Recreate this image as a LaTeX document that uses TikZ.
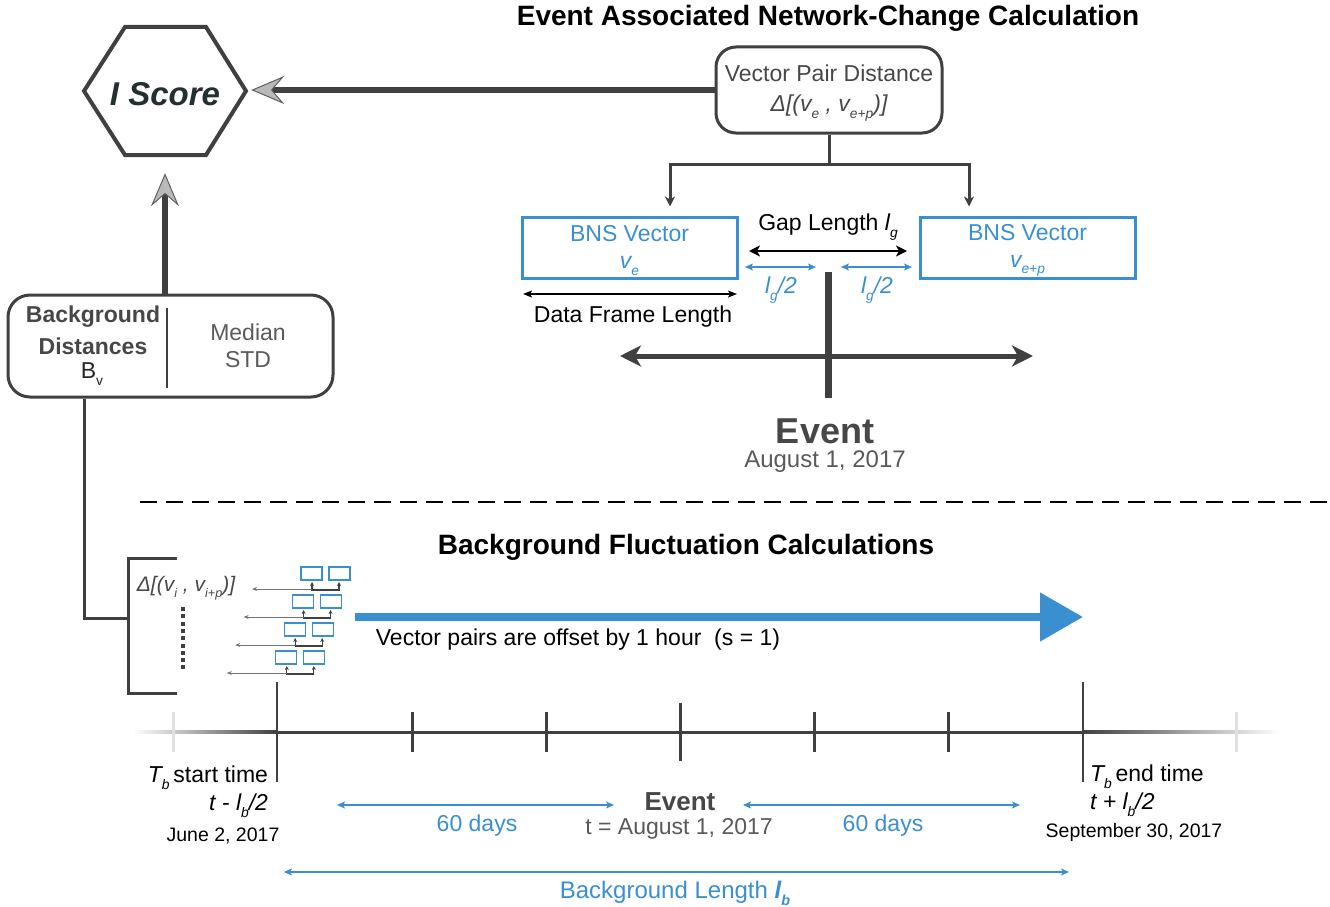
\documentclass[tikz,border=0pt]{standalone}
\usepackage{fontspec}
\setmainfont{Liberation Sans}
\usetikzlibrary{arrows.meta,calc}
\definecolor{dk}{HTML}{404040}
\definecolor{bl}{HTML}{3A8FD1}
\definecolor{tg}{HTML}{474747}
\definecolor{mg}{HTML}{5A5A5A}
\definecolor{isc}{HTML}{243030}
\newcommand{\lsub}[1]{\raisebox{-0.55ex}{\scalebox{0.6}{#1}}}
\newcommand{\fs}[1]{\fontsize{#1}{#1}\selectfont}
\begin{document}
\begin{tikzpicture}[x=1pt,y=-1pt,
  txt/.style={inner sep=0pt, outer sep=0pt, yshift=-3pt},
  med/.style={draw=dk, line width=3pt},
  bigarrow/.style={draw=dk, line width=6pt, -{Stealth[length=33pt,width=28pt,inset=12pt,line width=1pt,color=gray!75!black,fill=gray!55]}},
  smalltip/.style={-{Stealth[length=10pt,width=10pt,inset=3pt]}},
  bluedim/.style={draw=bl, line width=1.5pt, {Stealth[length=8pt,width=7pt,inset=2pt]}-{Stealth[length=8pt,width=7pt,inset=2pt]}},
  blackdim/.style={draw=black, line width=1.5pt, {Stealth[length=9pt,width=7pt,inset=2pt]}-{Stealth[length=9pt,width=7pt,inset=2pt]}},
  bnsbox/.style={draw=bl, line width=3pt, minimum width=215pt, minimum height=61pt, inner sep=0pt},
  bnstxt/.style={txt, align=center, text=bl, font=\fontsize{23}{27}\selectfont},
  tick/.style={draw=dk, line width=3pt},
  lighttick/.style={draw=black!12, line width=3pt},
  minivec/.style={draw=bl, line width=1.3pt},
]
\useasboundingbox (0,0) rectangle (1330,907);

% ---------- titles
\node[txt, font=\fs{28}\bfseries] (title1) at (828,15) {Event Associated Network-Change Calculation};
\node[txt, font=\fs{28}\bfseries] (title2) at (686,544) {Background Fluctuation Calculations};

% ---------- I Score hexagon
\draw[dk, line width=4pt, line join=miter] (84,91) -- (125,27) -- (206,27) -- (246,91) -- (206,155) -- (125,155) -- cycle;
\node[minimum width=162pt, minimum height=128pt, inner sep=0pt] (iscore) at (165,91) {};
\node[txt, font=\fs{33}\bfseries\itshape, text=isc] (iscoretxt) at (165,91) {I Score};

% ---------- Vector pair distance box
\node[draw=dk, line width=3pt, rounded corners=20pt, minimum width=226pt, minimum height=86pt, inner sep=0pt] (vpd) at (829,90) {};
\node[txt, align=center, text=tg, font=\fontsize{23}{30}\selectfont] (vpdtxt) at (vpd.center)
      {Vector Pair Distance\\ \itshape Δ[(v\lsub{e} , v\lsub{e+p})]};
\draw[bigarrow, shorten >=5pt] (vpd.west) -- (vpd.west -| iscore.east);

% ---------- BNS vectors
\node[bnsbox] (bnsL) at (629.5,247.5) {};
\node[bnsbox] (bnsR) at (1027.5,247.5) {};
\node[bnstxt] (bnsLt) at (bnsL.center) {BNS Vector\\ \itshape v\lsub{e}};
\node[bnstxt] (bnsRt) at (bnsR.center) {BNS Vector\\ \itshape v\lsub{e+p}};
\coordinate (br) at ($(vpd.south)+(0,30)$);
\draw[med] (vpd.south) -- (br);
\draw[med, smalltip, shorten >=9pt] (br) -| ($(bnsL.north)+(40.5,0)$);
\draw[med, smalltip, shorten >=9pt] (br) -| ($(bnsR.north)+(-58.5,0)$);

% gap length
\node[txt, font=\fs{23}] (gap) at (828,224) {Gap Length {\itshape l}\lsub{\itshape g}};
\coordinate (gapL) at (749,251); \coordinate (gapR) at (907,251);
\draw[draw=black, line width=2.5pt, {Stealth[length=11pt,width=11pt,inset=3pt]}-{Stealth[length=11pt,width=11pt,inset=3pt]}] (gapL) -- (gapR);
\coordinate (h1a) at (745,267); \coordinate (h1b) at (816,267);
\coordinate (h2a) at (841,267); \coordinate (h2b) at (912,267);
\draw[bluedim] (h1a) -- (h1b);
\draw[bluedim] (h2a) -- (h2b);
\node[txt, font=\fs{23}\itshape, text=bl] (hg1) at (781,287) {l\lsub{g}/2};
\node[txt, font=\fs{23}\itshape, text=bl] (hg2) at (877,287) {l\lsub{g}/2};

% data frame length
\coordinate (dfa) at (523,294); \coordinate (dfb) at (737,294);
\draw[blackdim] (dfa) -- (dfb);
\node[txt, font=\fs{23}] (dfl) at (633,314) {Data Frame Length};

% event axis (top)
\coordinate (evtop) at (828,272); \coordinate (evbot) at (828,398);
\draw[draw=dk, line width=7pt] (evtop) -- (evbot);
\coordinate (eaL) at (620,356); \coordinate (eaR) at (1033,356);
\draw[draw=dk, line width=5pt, {Stealth[length=21pt,width=21pt,inset=6pt]}-{Stealth[length=21pt,width=21pt,inset=6pt]}] (eaL) -- (eaR);
\node[txt, font=\fs{36}\bfseries, text=tg] (ev1) at (825,428) {Event};
\node[txt, font=\fs{24}, text=mg] (ev1d) at (825,459) {August 1, 2017};

% ---------- dashed separator
\coordinate (dsa) at (140,502); \coordinate (dsb) at (1330,502);
\draw[black, line width=1.5pt, dash pattern=on 17pt off 9pt] (dsa) -- (dsb);

% ---------- Background distances box
\node[draw=dk, line width=3pt, rounded corners=22pt, minimum width=325pt, minimum height=102pt, inner sep=0pt] (bgd) at (170.5,346) {};
\draw[dk, line width=1.5pt] (167,308) -- (167,388);
\node[txt, font=\fs{23}\bfseries, text=tg] (bg1) at (93,314) {Background};
\node[txt, font=\fs{23}\bfseries, text=tg] (bg2) at (93,343) {Distances};
\node[txt, font=\fs{23}, text=black!85] (bg3) at (92,371) {B\lsub{v}};
\node[txt, font=\fs{23}, text=mg] (md) at (248,329) {Median};
\node[txt, font=\fs{23}, text=mg] (sd) at (248,357) {STD};
\draw[bigarrow, shorten >=18pt] (bgd.north -| iscore.south) -- (iscore.south);

% bracket
\coordinate (brk) at (128,618);
\draw[med] ($(bgd.south)+(-86.5,0)$) |- (brk);
\draw[med] (177,558) -- (128,558) -- (128,693) -- (177,693);
\node[txt, font=\fs{21}\itshape, text=tg] (dvi) at (186,585) {Δ[(v\lsub{i} , v\lsub{i+p})]};
\foreach \k in {0,...,8} \fill[dk] (181,{607+7.3*\k}) rectangle ++(4,4);

% mini vector pairs
\foreach \i in {0,1,2,3} {
  \begin{scope}[shift={({-8.4*\i},{28*\i})}]
    \draw[minivec] (301,567) rectangle (322,580);
    \draw[minivec] (329,567) rectangle (350,580);
    \draw[draw=dk, line width=1.2pt, {Stealth[length=4pt,width=4pt]}-{Stealth[length=4pt,width=4pt]}] (312,582) -- (312,590) -- (339,590) -- (339,582);
    \draw[draw=black!55, line width=1pt, -{Stealth[length=5pt,width=4pt]}] (312,589) -- (252,589);
  \end{scope}
}

% big blue arrow
\coordinate (baa) at (355,617); \coordinate (bab) at (1083,617);
\draw[draw=bl, line width=8pt, -{Triangle[length=43pt,width=47pt]}] (baa) -- (bab);
\node[txt, font=\fs{23}] (vpo) at (578,637) {Vector pairs are offset by 1 hour\ \ (s = 1)};

% ---------- timeline
\shade[left color=white, right color=dk] (133,730.5) rectangle (277,733.5);
\shade[left color=dk, right color=white] (1083,730.5) rectangle (1280,733.5);
\coordinate (tls) at (277,732); \coordinate (tle) at (1083,732);
\draw[draw=dk, line width=3pt] (tls) -- (tle);
\draw[lighttick] (173,712) -- (173,752);
\draw[lighttick] (1236,712) -- (1236,752);
\foreach \x in {412,546,814,948} \draw[tick] (\x,712) -- (\x,752);
\draw[tick] (680,703) -- (680,761);
\draw[draw=dk, line width=2.5pt] (277,682) -- (277,782);
\draw[draw=dk, line width=2.5pt] (1083,682) -- (1083,782);

% timeline labels
\node[txt, font=\fs{23}, anchor=east] (ts1) at (268,775) {{\itshape T}\lsub{\itshape b}\,start time};
\node[txt, font=\fs{23}\itshape, anchor=east] (ts2) at (268,803) {t - l\lsub{b}/2};
\node[txt, font=\fs{19.5}] (ts3) at (223,833) {June 2, 2017};
\node[txt, font=\fs{23}, anchor=west] (te1) at (1090,774) {{\itshape T}\lsub{\itshape b}\,end time};
\node[txt, font=\fs{23}\itshape, anchor=west] (te2) at (1090,802) {t + l\lsub{b}/2};
\node[txt, font=\fs{19.5}] (te3) at (1134,829) {September 30, 2017};
\node[txt, font=\fs{26}\bfseries, text=tg] (ev2) at (680,799) {Event};
\node[txt, font=\fs{23}, text=mg] (ev2d) at (679,826) {t = August 1, 2017};

% blue dimensions
\coordinate (d1a) at (337,805); \coordinate (d1b) at (614,805);
\coordinate (d2a) at (743,805); \coordinate (d2b) at (1020,805);
\coordinate (bla) at (284,872); \coordinate (blb) at (1069,872);
\draw[bluedim] (d1a) -- (d1b);
\draw[bluedim] (d2a) -- (d2b);
\draw[bluedim] (bla) -- (blb);
\node[txt, font=\fs{23}, text=bl] (sd1) at (477,823) {60 days};
\node[txt, font=\fs{23}, text=bl] (sd2) at (883,823) {60 days};
\node[txt, font=\fs{24}, text=bl] (bgl) at (675,890) {Background Length {\bfseries\itshape l}\lsub{\bfseries\itshape b}};
\end{tikzpicture}
\end{document}
